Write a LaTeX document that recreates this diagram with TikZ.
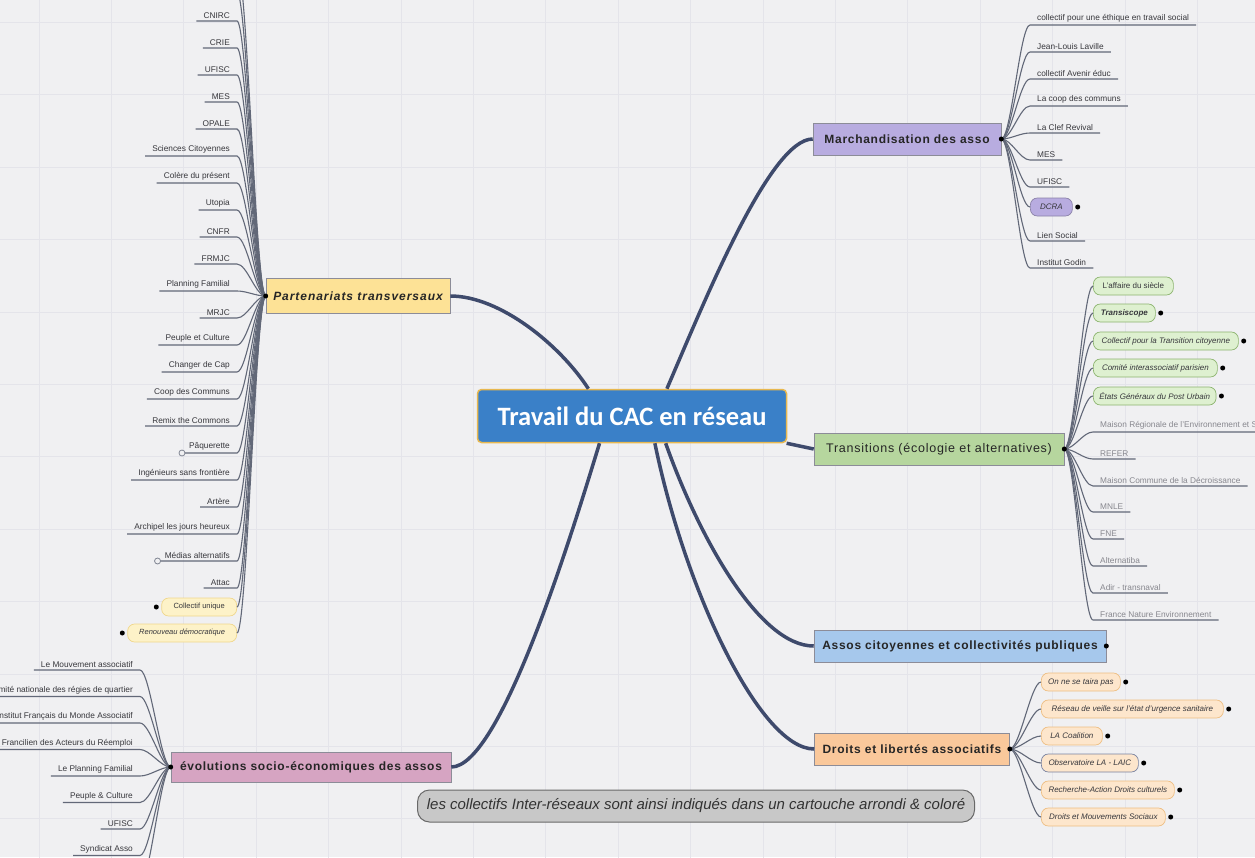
\documentclass[tikz,border=0pt]{standalone}
\usepackage{fontspec}
\setmainfont{Liberation Sans}
\newfontfamily\titlefont{Carlito}
\newfontfamily\spaced[LetterSpace=6]{Liberation Sans}
\newfontfamily\wider[LetterSpace=8]{Liberation Sans}
\usetikzlibrary{positioning}

\definecolor{paper}{RGB}{240,240,242}
\definecolor{gridcol}{RGB}{228,228,234}
\definecolor{limbcol}{RGB}{62,74,108}
\definecolor{twigcol}{RGB}{98,104,120}
\definecolor{leaftext}{RGB}{55,55,60}
\definecolor{paletext}{RGB}{135,135,142}
\definecolor{cacfill}{RGB}{58,128,200}
\definecolor{cacedge}{RGB}{232,184,80}
\definecolor{partfill}{RGB}{253,226,150}
\definecolor{marfill}{RGB}{184,172,224}
\definecolor{trafill}{RGB}{182,214,158}
\definecolor{assfill}{RGB}{166,200,236}
\definecolor{drofill}{RGB}{250,200,155}
\definecolor{evofill}{RGB}{214,164,194}
\definecolor{boxedge}{RGB}{140,140,152}
\definecolor{yelpill}{RGB}{253,242,200}
\definecolor{yeledge}{RGB}{240,215,140}
\definecolor{grnpill}{RGB}{222,240,208}
\definecolor{grnedge}{RGB}{140,180,110}
\definecolor{orapill}{RGB}{253,230,204}
\definecolor{oraedge}{RGB}{238,190,130}
\definecolor{obsedge}{RGB}{120,130,160}
\definecolor{capfill}{RGB}{200,200,200}
\definecolor{capedge}{RGB}{105,105,105}

\begin{document}
\begin{tikzpicture}[x=1pt,y=-1pt,
  limb/.style={draw=limbcol,line width=3.5pt},
  twig/.style={draw=twigcol,line width=1.1pt},
  branch/.style={draw=boxedge,line width=0.6pt,inner sep=0pt,minimum height=32pt,text=black!85},
  leaf/.style={inner xsep=7pt,inner ysep=2.5pt,text=leaftext,font=\fontsize{8.3}{10}\selectfont},
  pale/.style={leaf,text=paletext},
  pill/.style={draw,rounded corners=7pt,line width=0.7pt,minimum height=18pt,inner xsep=6pt,inner ysep=0pt,text=leaftext,font=\fontsize{8}{9}\selectfont\itshape},
  ring/.style={draw=twigcol!80,line width=0.8pt,fill=paper}]
  \clip (0,0) rectangle (1255,857);
  \fill[paper] (0,0) rectangle (1255,857);
  \draw[gridcol,line width=1pt,shift={(39,22.5)}] (-72.4,-72.4) grid[step=72.4pt] (1300,900);

  \node[draw=cacedge,line width=1.5pt,fill=cacfill,rounded corners=4pt,minimum width=309pt,minimum height=53pt,text=white,font=\titlefont\bfseries\fontsize{26.5}{30}\selectfont] (cac) at (632,416) {Travail du CAC en réseau};

  \node[branch,fill=partfill,minimum width=184pt,minimum height=35pt,font=\wider\bfseries\itshape\fontsize{12}{14}\selectfont] (part) at (358,296) {Partenariats transversaux};
  \node[branch,fill=marfill,minimum width=188pt,font=\spaced\bfseries\fontsize{12}{14}\selectfont] (mar) at (907,139) {Marchandisation des asso};
  \node[branch,fill=trafill,minimum width=250pt,font=\spaced\fontsize{12.5}{14}\selectfont] (tra) at (939,449) {Transitions (écologie et alternatives)};
  \node[branch,fill=assfill,minimum width=292pt,font=\spaced\bfseries\fontsize{12}{14}\selectfont] (ass) at (960,646) {Assos citoyennes et collectivités publiques};
  \node[branch,fill=drofill,minimum width=195pt,font=\spaced\bfseries\fontsize{12}{14}\selectfont] (dro) at (912,749) {Droits et libertés associatifs};
  \node[branch,fill=evofill,minimum width=280pt,minimum height=30pt,font=\spaced\bfseries\fontsize{12}{14}\selectfont] (evo) at (311,767) {évolutions socio-économiques des assos};

  \draw[limb] (cac.148) .. controls (560,345) and (500,296) .. (part.east);
  \draw[limb] (cac.220) .. controls (570,540) and (500,767) .. (evo.east);
  \draw[limb] (cac.38) .. controls (705,300) and (770,139) .. (mar.west);
  \draw[limb] (cac.-10) .. controls (800,446) .. (tra.west);
  \draw[limb] (cac.-39) .. controls (700,540) and (760,646) .. (ass.west);
  \draw[limb] (cac.-50) .. controls (685,590) and (760,749) .. (dro.west);

  % partenariats
  \node[leaf,anchor=south east] (p1) at (237,21) {CNIRC};
  \node[leaf,anchor=south east] (p2) at (237,48) {CRIE};
  \node[leaf,anchor=south east] (p3) at (237,75) {UFISC};
  \node[leaf,anchor=south east] (p4) at (237,102) {MES};
  \node[leaf,anchor=south east] (p5) at (237,129) {OPALE};
  \node[leaf,anchor=south east] (p6) at (237,156) {Sciences Citoyennes};
  \node[leaf,anchor=south east] (p7) at (237,183) {Colère du présent};
  \node[leaf,anchor=south east] (p8) at (237,210) {Utopia};
  \node[leaf,anchor=south east] (p9) at (237,237) {CNFR};
  \node[leaf,anchor=south east] (p10) at (237,264) {FRMJC};
  \node[leaf,anchor=south east] (p11) at (237,291) {Planning Familial};
  \node[leaf,anchor=south east] (p12) at (237,318) {MRJC};
  \node[leaf,anchor=south east] (p13) at (237,345) {Peuple et Culture};
  \node[leaf,anchor=south east] (p14) at (237,372) {Changer de Cap};
  \node[leaf,anchor=south east] (p15) at (237,399) {Coop des Communs};
  \node[leaf,anchor=south east] (p16) at (237,426) {Remix the Commons};
  \node[leaf,anchor=south east] (p17) at (237,453) {Pâquerette};
  \node[leaf,anchor=south east] (p18) at (237,480) {Ingénieurs sans frontière};
  \node[leaf,anchor=south east] (p19) at (237,507) {Artère};
  \node[leaf,anchor=south east] (p20) at (237,534) {Archipel les jours heureux};
  \node[leaf,anchor=south east] (p21) at (237,561) {Médias alternatifs};
  \node[leaf,anchor=south east] (p22) at (237,588) {Attac};
  \node[pill,draw=yeledge,fill=yelpill,anchor=east,minimum width=75pt,font=\fontsize{7.5}{9}\selectfont] (p23) at (237,607) {Collectif unique};
  \node[pill,draw=yeledge,fill=yelpill,anchor=east,minimum width=109pt,font=\fontsize{7.5}{9}\selectfont\itshape] (p24) at (237,633) {Renouveau démocratique};
  \coordinate (pup1) at (237,-8);
  \coordinate (pup2) at (237,-35);
  \draw[twig] (part.west) to[out=180,in=0,distance=10pt] (pup1);
  \draw[twig] (part.west) to[out=180,in=0,distance=10pt] (pup2);
  \draw[twig] (part.west) to[out=180,in=0,distance=10pt] (p1.south east) -- (p1.south west);
  \draw[twig] (part.west) to[out=180,in=0,distance=10pt] (p2.south east) -- (p2.south west);
  \draw[twig] (part.west) to[out=180,in=0,distance=10pt] (p3.south east) -- (p3.south west);
  \draw[twig] (part.west) to[out=180,in=0,distance=10pt] (p4.south east) -- (p4.south west);
  \draw[twig] (part.west) to[out=180,in=0,distance=10pt] (p5.south east) -- (p5.south west);
  \draw[twig] (part.west) to[out=180,in=0,distance=10pt] (p6.south east) -- (p6.south west);
  \draw[twig] (part.west) to[out=180,in=0,distance=10pt] (p7.south east) -- (p7.south west);
  \draw[twig] (part.west) to[out=180,in=0,distance=10pt] (p8.south east) -- (p8.south west);
  \draw[twig] (part.west) to[out=180,in=0,distance=10pt] (p9.south east) -- (p9.south west);
  \draw[twig] (part.west) to[out=180,in=0,distance=10pt] (p10.south east) -- (p10.south west);
  \draw[twig] (part.west) to[out=180,in=0,distance=10pt] (p11.south east) -- (p11.south west);
  \draw[twig] (part.west) to[out=180,in=0,distance=10pt] (p12.south east) -- (p12.south west);
  \draw[twig] (part.west) to[out=180,in=0,distance=10pt] (p13.south east) -- (p13.south west);
  \draw[twig] (part.west) to[out=180,in=0,distance=10pt] (p14.south east) -- (p14.south west);
  \draw[twig] (part.west) to[out=180,in=0,distance=10pt] (p15.south east) -- (p15.south west);
  \draw[twig] (part.west) to[out=180,in=0,distance=10pt] (p16.south east) -- (p16.south west);
  \draw[twig] (part.west) to[out=180,in=0,distance=10pt] (p17.south east) -- (p17.south west);
  \draw[twig] (part.west) to[out=180,in=0,distance=10pt] (p18.south east) -- (p18.south west);
  \draw[twig] (part.west) to[out=180,in=0,distance=10pt] (p19.south east) -- (p19.south west);
  \draw[twig] (part.west) to[out=180,in=0,distance=10pt] (p20.south east) -- (p20.south west);
  \draw[twig] (part.west) to[out=180,in=0,distance=10pt] (p21.south east) -- (p21.south west);
  \draw[twig] (part.west) to[out=180,in=0,distance=10pt] (p22.south east) -- (p22.south west);
  \draw[twig] (part.west) to[out=180,in=0,distance=10pt] (p23.east);
  \draw[twig] (part.west) to[out=180,in=0,distance=10pt] (p24.east);
  \draw[ring] (p17.south west) circle (3pt);
  \draw[ring] (p21.south west) circle (3pt);
  \fill ([xshift=-5pt]p23.west) circle (2.5pt);
  \fill ([xshift=-5pt]p24.west) circle (2.5pt);
  \fill (part.west) circle (2.5pt);

  % evolutions
  \node[leaf,anchor=south east] (e1) at (140,670) {Le Mouvement associatif};
  \node[leaf,anchor=south east] (e2) at (140,696.5) {Comité nationale des régies de quartier};
  \node[leaf,anchor=south east] (e3) at (140,723) {Institut Français du Monde Associatif};
  \node[leaf,anchor=south east] (e4) at (140,749.5) {Réseau Francilien des Acteurs du Réemploi};
  \node[leaf,anchor=south east] (e5) at (140,776) {Le Planning Familial};
  \node[leaf,anchor=south east] (e6) at (140,802.5) {Peuple \& Culture};
  \node[leaf,anchor=south east] (e7) at (140,829) {UFISC};
  \node[leaf,anchor=south east] (e8) at (140,855.5) {Syndicat Asso};
  \coordinate (edown) at (140,884);
  \draw[twig] (evo.west) to[out=180,in=0,distance=10pt] (e1.south east) -- (e1.south west);
  \draw[twig] (evo.west) to[out=180,in=0,distance=10pt] (e2.south east) -- (e2.south west);
  \draw[twig] (evo.west) to[out=180,in=0,distance=10pt] (e3.south east) -- (e3.south west);
  \draw[twig] (evo.west) to[out=180,in=0,distance=10pt] (e4.south east) -- (e4.south west);
  \draw[twig] (evo.west) to[out=180,in=0,distance=10pt] (e5.south east) -- (e5.south west);
  \draw[twig] (evo.west) to[out=180,in=0,distance=10pt] (e6.south east) -- (e6.south west);
  \draw[twig] (evo.west) to[out=180,in=0,distance=10pt] (e7.south east) -- (e7.south west);
  \draw[twig] (evo.west) to[out=180,in=0,distance=10pt] (e8.south east) -- (e8.south west);
  \draw[twig] (evo.west) to[out=180,in=0,distance=10pt] (edown);
  \fill (evo.west) circle (2.5pt);

  % marchandisation
  \node[leaf,anchor=south west] (m1) at (1030,25) {collectif pour une éthique en travail social};
  \node[leaf,anchor=south west] (m2) at (1030,52) {Jean-Louis Laville};
  \node[leaf,anchor=south west] (m3) at (1030,79) {collectif Avenir éduc};
  \node[leaf,anchor=south west] (m4) at (1030,106) {La coop des communs};
  \node[leaf,anchor=south west] (m5) at (1030,133) {La Clef Revival};
  \node[leaf,anchor=south west] (m6) at (1030,160) {MES};
  \node[leaf,anchor=south west] (m7) at (1030,187) {UFISC};
  \node[pill,draw=marfill!75!black,fill=marfill,anchor=west,minimum width=42pt] (m8) at (1030,207) {DCRA};
  \node[leaf,anchor=south west] (m9) at (1030,241) {Lien Social};
  \node[leaf,anchor=south west] (m10) at (1030,268) {Institut Godin};
  \draw[twig] (mar.east) to[out=0,in=180,distance=10pt] (m1.south west) -- (m1.south east);
  \draw[twig] (mar.east) to[out=0,in=180,distance=10pt] (m2.south west) -- (m2.south east);
  \draw[twig] (mar.east) to[out=0,in=180,distance=10pt] (m3.south west) -- (m3.south east);
  \draw[twig] (mar.east) to[out=0,in=180,distance=10pt] (m4.south west) -- (m4.south east);
  \draw[twig] (mar.east) to[out=0,in=180,distance=10pt] (m5.south west) -- (m5.south east);
  \draw[twig] (mar.east) to[out=0,in=180,distance=10pt] (m6.south west) -- (m6.south east);
  \draw[twig] (mar.east) to[out=0,in=180,distance=10pt] (m7.south west) -- (m7.south east);
  \draw[twig] (mar.east) to[out=0,in=180,distance=10pt] (m8.west);
  \draw[twig] (mar.east) to[out=0,in=180,distance=10pt] (m9.south west) -- (m9.south east);
  \draw[twig] (mar.east) to[out=0,in=180,distance=10pt] (m10.south west) -- (m10.south east);
  \fill ([xshift=5pt]m8.east) circle (2.5pt);
  \fill (mar.east) circle (2.5pt);

  % transitions
  \node[pill,draw=grnedge,fill=grnpill,anchor=west,minimum width=80pt,font=\fontsize{8}{9}\selectfont] (t1) at (1093,286) {L'affaire du siècle};
  \node[pill,draw=grnedge,fill=grnpill,anchor=west,minimum width=62pt,font=\fontsize{8}{9}\selectfont\bfseries\itshape] (t2) at (1093,313) {Transiscope};
  \node[pill,draw=grnedge,fill=grnpill,anchor=west,minimum width=145pt] (t3) at (1093,341) {Collectif pour la Transition citoyenne};
  \node[pill,draw=grnedge,fill=grnpill,anchor=west,minimum width=124pt] (t4) at (1093,368) {Comité interassociatif parisien};
  \node[pill,draw=grnedge,fill=grnpill,anchor=west,minimum width=122pt] (t5) at (1093,396) {États Généraux du Post Urbain};
  \node[pale,anchor=south west] (t6) at (1093,432) {Maison Régionale de l'Environnement et Solidarités};
  \node[pale,anchor=south west] (t7) at (1093,459) {REFER};
  \node[pale,anchor=south west] (t8) at (1093,486) {Maison Commune de la Décroissance};
  \node[pale,anchor=south west] (t9) at (1093,512) {MNLE};
  \node[pale,anchor=south west] (t10) at (1093,539) {FNE};
  \node[pale,anchor=south west] (t11) at (1093,566) {Alternatiba};
  \node[pale,anchor=south west] (t12) at (1093,593) {Adir - transnaval};
  \node[pale,anchor=south west] (t13) at (1093,620) {France Nature Environnement};
  \draw[twig] (tra.east) to[out=0,in=180,distance=10pt] (t1.west);
  \draw[twig] (tra.east) to[out=0,in=180,distance=10pt] (t2.west);
  \draw[twig] (tra.east) to[out=0,in=180,distance=10pt] (t3.west);
  \draw[twig] (tra.east) to[out=0,in=180,distance=10pt] (t4.west);
  \draw[twig] (tra.east) to[out=0,in=180,distance=10pt] (t5.west);
  \draw[twig] (tra.east) to[out=0,in=180,distance=10pt] (t6.south west) -- (t6.south east);
  \draw[twig] (tra.east) to[out=0,in=180,distance=10pt] (t7.south west) -- (t7.south east);
  \draw[twig] (tra.east) to[out=0,in=180,distance=10pt] (t8.south west) -- (t8.south east);
  \draw[twig] (tra.east) to[out=0,in=180,distance=10pt] (t9.south west) -- (t9.south east);
  \draw[twig] (tra.east) to[out=0,in=180,distance=10pt] (t10.south west) -- (t10.south east);
  \draw[twig] (tra.east) to[out=0,in=180,distance=10pt] (t11.south west) -- (t11.south east);
  \draw[twig] (tra.east) to[out=0,in=180,distance=10pt] (t12.south west) -- (t12.south east);
  \draw[twig] (tra.east) to[out=0,in=180,distance=10pt] (t13.south west) -- (t13.south east);
  \fill ([xshift=5pt]t2.east) circle (2.5pt);
  \fill ([xshift=5pt]t3.east) circle (2.5pt);
  \fill ([xshift=5pt]t4.east) circle (2.5pt);
  \fill ([xshift=5pt]t5.east) circle (2.5pt);
  \fill (tra.east) circle (2.5pt);

  \fill (ass.east) circle (2.5pt);

  % droits
  \node[pill,draw=oraedge,fill=orapill,anchor=west,minimum width=79pt] (d1) at (1041,682) {On ne se taira pas};
  \node[pill,draw=oraedge,fill=orapill,anchor=west,minimum width=182pt] (d2) at (1041,709) {Réseau de veille sur l'état d'urgence sanitaire};
  \node[pill,draw=oraedge,fill=orapill,anchor=west,minimum width=61pt] (d3) at (1041,736) {LA Coalition};
  \node[pill,draw=obsedge,fill=orapill,anchor=west,minimum width=97pt] (d4) at (1041,763) {Observatoire LA - LAIC};
  \node[pill,draw=oraedge,fill=orapill,anchor=west,minimum width=133pt] (d5) at (1041,790) {Recherche-Action Droits culturels};
  \node[pill,draw=oraedge,fill=orapill,anchor=west,minimum width=124pt] (d6) at (1041,817) {Droits et Mouvements Sociaux};
  \draw[twig] (dro.east) to[out=0,in=180,distance=10pt] (d1.west);
  \draw[twig] (dro.east) to[out=0,in=180,distance=10pt] (d2.west);
  \draw[twig] (dro.east) to[out=0,in=180,distance=10pt] (d3.west);
  \draw[twig] (dro.east) to[out=0,in=180,distance=10pt] (d4.west);
  \draw[twig] (dro.east) to[out=0,in=180,distance=10pt] (d5.west);
  \draw[twig] (dro.east) to[out=0,in=180,distance=10pt] (d6.west);
  \fill ([xshift=5pt]d1.east) circle (2.5pt);
  \fill ([xshift=5pt]d2.east) circle (2.5pt);
  \fill ([xshift=5pt]d3.east) circle (2.5pt);
  \fill ([xshift=5pt]d4.east) circle (2.5pt);
  \fill ([xshift=5pt]d5.east) circle (2.5pt);
  \fill ([xshift=5pt]d6.east) circle (2.5pt);
  \fill (dro.east) circle (2.5pt);

  \node[draw=capedge,fill=capfill,rounded corners=12pt,line width=1pt,minimum width=557pt,minimum height=32pt,text=black!80,font=\itshape\fontsize{15}{18}\selectfont] (cap) at (696,806) {les collectifs Inter-réseaux sont ainsi indiqués dans un cartouche arrondi \& coloré};
\end{tikzpicture}
\end{document}
